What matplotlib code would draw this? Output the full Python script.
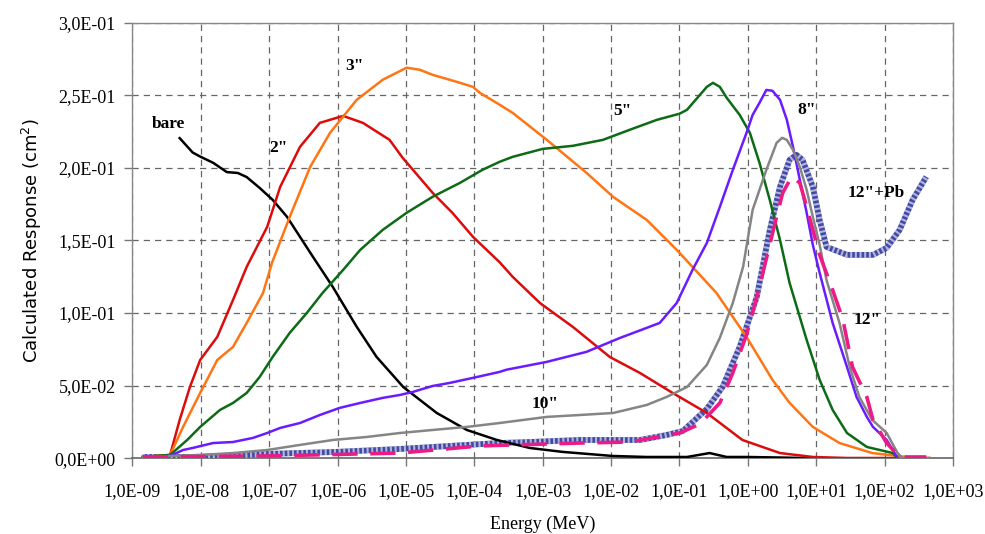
import matplotlib
matplotlib.use('Agg')
import matplotlib.pyplot as plt
from matplotlib.ticker import FuncFormatter, NullLocator, FixedLocator
import numpy as np

# energies given as log10(E / MeV), responses in cm2
bare_logE = [-8.31, -8.12, -8.01, -7.82, -7.62, -7.46, -7.33, -7.14, -6.95, -6.74, -6.55, -6.36, -6.07,
             -5.72, -5.43, -5.04, -4.55, -4.11, -3.67, -3.19, -2.71, -1.98, -1.48, -0.89, -0.56, -0.31,
             -0.02, 0.5, 1.0]
bare_resp = [0.2205, 0.2106, 0.2078, 0.2035, 0.1971, 0.1965, 0.1937, 0.1862, 0.178, 0.1663, 0.1525, 0.1387,
             0.118, 0.0905, 0.0698, 0.0491, 0.0312, 0.0195, 0.0126, 0.0071, 0.0044, 0.0016, 0.0009, 0.0009,
             0.0036, 0.0009, 0.0009, 0.0005, 0.0]

r2_logE = [-8.85, -8.45, -8.31, -8.16, -8.01, -7.76, -7.53, -7.33, -7.03, -6.84, -6.55, -6.26, -5.92, -5.63,
           -5.24, -5.05, -4.61, -4.32, -4.02, -3.63, -3.44, -3.04, -2.56, -2.02, -1.58, -1.10, -0.60, -0.08,
           0.47, 0.95, 1.45, 2.19]
r2_resp = [0.0009, 0.0023, 0.0264, 0.0491, 0.0677, 0.0836, 0.109, 0.1318, 0.1594, 0.1869, 0.2145, 0.231,
           0.2358, 0.231, 0.2193, 0.207, 0.1828, 0.169, 0.1525, 0.135, 0.125, 0.1069, 0.0905, 0.0698,
           0.0588, 0.045, 0.0312, 0.0126, 0.0036, 0.0009, 0.0002, 0.0002]

r3_logE = [-8.85, -8.45, -8.26, -8.01, -7.76, -7.53, -7.33, -7.09, -6.96, -6.70, -6.40, -6.11, -5.72, -5.34,
           -4.99, -4.80, -4.61, -4.21, -4.02, -3.92, -3.63, -3.44, -2.94, -2.36, -1.97, -1.48, -1.04, -0.81,
           -0.46, -0.02, 0.36, 0.61, 0.95, 1.34, 1.82, 2.32, 2.66]
r3_resp = [0.0009, 0.0023, 0.0216, 0.045, 0.0677, 0.0767, 0.0932, 0.1139, 0.1346, 0.1663, 0.2008, 0.2242,
           0.2469, 0.2607, 0.269, 0.2676, 0.2641, 0.2586, 0.2558, 0.2517, 0.2435, 0.2379, 0.2193, 0.1966,
           0.18, 0.1642, 0.1435, 0.1318, 0.1139, 0.0836, 0.054, 0.0382, 0.0216, 0.0105, 0.0036, 0.0009, 0.0002]

r5_logE = [-8.85, -8.45, -8.20, -8.01, -7.72, -7.53, -7.33, -7.14, -6.95, -6.70, -6.45, -6.22, -5.92, -5.67,
           -5.34, -4.99, -4.61, -4.21, -3.88, -3.63, -3.44, -3.00, -2.56, -2.12, -1.73, -1.33, -1.00, -0.89,
           -0.60, -0.51, -0.41, -0.31, -0.12, 0.03, 0.17, 0.32, 0.47, 0.61, 0.86, 1.05, 1.24, 1.45, 1.74,
           2.12, 2.19]
r5_resp = [0.0009, 0.0023, 0.0126, 0.0216, 0.0333, 0.0381, 0.045, 0.056, 0.0698, 0.0864, 0.1001, 0.1139,
           0.1297, 0.1435, 0.1573, 0.1691, 0.1801, 0.1897, 0.1987, 0.2042, 0.2076, 0.2131, 0.2152, 0.2193,
           0.2262, 0.2331, 0.2373, 0.24, 0.2558, 0.2586, 0.2558, 0.2483, 0.2365, 0.2241, 0.2035, 0.178,
           0.1504, 0.1208, 0.0815, 0.054, 0.0333, 0.0174, 0.0078, 0.0036, 0.0002]

r8_logE = [-8.85, -8.45, -8.26, -8.12, -7.82, -7.53, -7.24, -7.03, -6.84, -6.55, -6.26, -5.97, -5.67, -5.34,
           -5.09, -4.90, -4.61, -4.36, -3.96, -3.63, -3.53, -2.94, -2.36, -1.87, -1.48, -1.29, -1.04, -0.81,
           -0.60, -0.41, -0.22, -0.02, 0.07, 0.17, 0.27, 0.36, 0.47, 0.57, 0.66, 0.76, 0.86, 0.95, 1.05,
           1.24, 1.45, 1.59, 1.74, 1.83, 2.03, 2.19]
r8_resp = [0.0006, 0.0016, 0.0057, 0.0071, 0.0105, 0.0112, 0.014, 0.0174, 0.0209, 0.0243, 0.0298, 0.0347,
           0.0381, 0.0416, 0.0436, 0.0457, 0.0498, 0.0519, 0.056, 0.0595, 0.061, 0.0664, 0.0733, 0.0829,
           0.0898, 0.0932, 0.107, 0.1297, 0.1483, 0.1731, 0.1986, 0.2241, 0.2365, 0.2448, 0.2537, 0.2531,
           0.2469, 0.2331, 0.2145, 0.1918, 0.1691, 0.147, 0.1277, 0.0932, 0.0629, 0.0422, 0.0285, 0.0216,
           0.0126, 0.0002]

r10_logE = [-8.85, -8.01, -7.53, -7.03, -6.55, -6.07, -5.57, -5.09, -4.61, -4.11, -3.63, -2.94, -2.46, -1.97,
            -1.48, -1.19, -0.89, -0.60, -0.41, -0.22, -0.07, 0.07, 0.27, 0.42, 0.50, 0.57, 0.66, 0.76, 0.86,
            0.95, 1.05, 1.15, 1.34, 1.49, 1.63, 1.82, 2.03, 2.19, 2.26, 2.66]
r10_resp = [0.0009, 0.0023, 0.0036, 0.0057, 0.0092, 0.0126, 0.0147, 0.0174, 0.0195, 0.0216, 0.0243, 0.0285,
            0.0298, 0.0312, 0.0367, 0.0422, 0.0491, 0.0643, 0.0829, 0.107, 0.1318, 0.1711, 0.1986, 0.2172,
            0.2207, 0.2193, 0.2124, 0.2007, 0.1849, 0.1663, 0.147, 0.1228, 0.0932, 0.0629, 0.0422, 0.0264,
            0.0174, 0.0036, 0.0002, 0.0002]

r12_logE = [-8.85, -7.03, -5.09, -3.92, -2.46, -1.73, -1.00, -0.70, -0.41, -0.22, -0.02, 0.17, 0.32, 0.42,
            0.51, 0.64, 0.76, 0.86, 0.95, 1.05, 1.24, 1.39, 1.53, 1.74, 1.83, 2.03, 2.22, 2.61]
r12_resp = [0.0009, 0.0016, 0.0036, 0.0085, 0.0105, 0.0112, 0.0174, 0.0236, 0.0381, 0.0588, 0.085, 0.1181,
            0.147, 0.1663, 0.1828, 0.1939, 0.1897, 0.1732, 0.1573, 0.1401, 0.116, 0.0954, 0.0629, 0.0422,
            0.0264, 0.0105, 0.0009, 0.0009]

r12pb_logE = [-8.85, -8.01, -7.03, -6.07, -5.09, -4.11, -3.63, -3.19, -2.46, -1.58, -1.19, -0.95, -0.60,
              -0.37, -0.12, 0.13, 0.32, 0.47, 0.61, 0.71, 0.80, 0.95, 1.05, 1.15, 1.45, 1.83, 2.03, 2.22,
              2.41, 2.61]
r12pb_resp = [0.0009, 0.0009, 0.003, 0.0043, 0.0064, 0.0092, 0.0105, 0.0112, 0.0126, 0.0126, 0.016, 0.0188,
              0.034, 0.0491, 0.0767, 0.1111, 0.157, 0.187, 0.2055, 0.209, 0.2055, 0.187, 0.1642, 0.1456,
              0.1401, 0.1401, 0.1449, 0.1573, 0.178, 0.1939]

labels = ['bare', '2"', '3"', '5"', '8"', '10"', '12"', '12"+Pb']
label_logE = [-8.48, -6.87, -5.75, -1.83, 0.86, -2.97, 1.75, 1.88]
label_resp = [0.2302, 0.2138, 0.2703, 0.2393, 0.24, 0.0374, 0.0954, 0.1827]

fig = plt.figure(figsize=(9.85, 5.34), dpi=100)
ax = fig.add_axes([0.1345, 0.1418, 0.8330, 0.8157])
ax.set_xscale('log')

ax.plot(10.0 ** np.array(r12pb_logE), r12pb_resp, color='#434aa6', lw=4.2, solid_capstyle='butt', zorder=3)
ax.plot(10.0 ** np.array(r12pb_logE), r12pb_resp, color='white', lw=4.2, alpha=0.6,
        linestyle=(0, (0.35, 0.45)), dash_capstyle='butt', zorder=3)
ax.plot(10.0 ** np.array(bare_logE), bare_resp, color='black', lw=1.8, zorder=4)
ax.plot(10.0 ** np.array(r2_logE), r2_resp, color='#dd0c0c', lw=1.8, zorder=4)
ax.plot(10.0 ** np.array(r3_logE), r3_resp, color='#ff7514', lw=1.8, zorder=4)
ax.plot(10.0 ** np.array(r5_logE), r5_resp, color='#0d6b16', lw=1.8, zorder=4)
ax.plot(10.0 ** np.array(r8_logE), r8_resp, color='#6a1cff', lw=1.8, zorder=4)
ax.plot(10.0 ** np.array(r10_logE), r10_resp, color='#858585', lw=1.8, zorder=4)
ax.plot(10.0 ** np.array(r12_logE), r12_resp, color='#ec1c86', lw=2.6, linestyle=(0, (7, 3.5)), zorder=4)

for t, lx, ly in zip(labels, label_logE, label_resp):
    ax.text(10.0 ** lx, ly, t, fontsize=12.5, fontweight='bold', family='Liberation Serif',
            ha='center', va='center', zorder=5)

ax.set_xlim(1e-9, 1e3)
ax.set_ylim(0, 0.3)
ax.xaxis.set_major_locator(FixedLocator([10.0 ** k for k in range(-9, 4)]))
ax.xaxis.set_minor_locator(NullLocator())
ax.set_yticks(np.arange(0, 0.301, 0.05))


def sci_comma(v, pos):
    s = '%.1E' % v
    mant, ex = s.split('E')
    return mant.replace('.', ',') + 'E' + ex[0] + ex[1:].zfill(2)


ax.xaxis.set_major_formatter(FuncFormatter(sci_comma))
ax.yaxis.set_major_formatter(FuncFormatter(sci_comma))

for lab in ax.get_xticklabels() + ax.get_yticklabels():
    lab.set_family('Liberation Serif')
    lab.set_fontsize(13)

ax.tick_params(axis='both', which='major', direction='out', length=6, color='#777777', width=1)
ax.tick_params(axis='x', pad=12)
ax.tick_params(axis='y', pad=6)

ax.grid(True, color='#666666', linestyle=(0, (5, 4)), lw=0.9)
ax.set_axisbelow(True)
for s in ['top', 'right', 'left']:
    ax.spines[s].set_color('#888888')
    ax.spines[s].set_linewidth(1.0)
ax.spines['bottom'].set_color('#666666')
ax.spines['bottom'].set_linewidth(1.2)

ax.set_xlabel('Energy (MeV)', family='Liberation Serif', fontsize=13, labelpad=11)
ax.set_ylabel('Calculated Response (cm$^2$)', family='DejaVu Sans', fontsize=13, labelpad=8)

plt.savefig('out.png', dpi=100)
plt.close()
